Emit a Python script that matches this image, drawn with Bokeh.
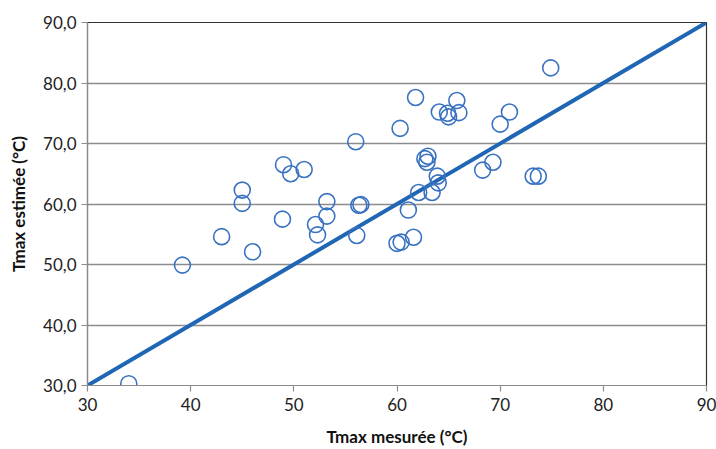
from bokeh.plotting import figure
from bokeh.models import FixedTicker, Range1d, ColumnDataSource
from bokeh.embed import file_html
from bokeh.resources import INLINE

# measured vs estimated Tmax (°C)
tmax_mesuree = [34.0, 39.2, 43.0, 45.0, 45.0, 46.0, 49.0, 48.9, 49.7, 51.0,
                52.1, 52.3, 53.2, 53.2, 56.0, 56.1, 56.3, 56.5, 60.0, 60.4,
                60.3, 61.1, 61.6, 61.8, 62.1, 62.7, 63.0, 62.9, 63.4, 64.0,
                63.9, 64.1, 64.9, 65.0, 65.8, 66.0, 68.3, 69.3, 70.0, 70.9,
                73.2, 73.7, 74.9]
tmax_estimee = [30.3, 49.9, 54.6, 62.3, 60.1, 52.1, 66.5, 57.5, 65.0, 65.7,
                56.6, 54.9, 60.4, 58.0, 70.3, 54.8, 59.8, 59.9, 53.5, 53.7,
                72.5, 59.0, 54.5, 77.6, 61.9, 67.5, 67.9, 66.9, 61.9, 63.5,
                64.6, 75.2, 75.0, 74.4, 77.1, 75.1, 65.6, 66.9, 73.2, 75.2,
                64.6, 64.6, 82.5]
ligne_x = [30, 90]
ligne_y = [30, 90]
x_ticks = [30, 40, 50, 60, 70, 80, 90]
y_ticks = [30, 40, 50, 60, 70, 80, 90]
y_tick_labels = ["30,0", "40,0", "50,0", "60,0", "70,0", "80,0", "90,0"]

FONT = "Lato"

p = figure(width=716, height=449, output_backend="svg", toolbar_location=None,
           x_range=Range1d(30, 90), y_range=Range1d(30, 90),
           min_border_left=87, min_border_right=10, min_border_top=22,
           min_border_bottom=62)

p.line(ligne_x, ligne_y, line_color="#1f66b5", line_width=4)
src = ColumnDataSource(dict(x=tmax_mesuree, y=tmax_estimee))
p.scatter("x", "y", source=src, size=16, fill_color=None,
          line_color="#3a72c2", line_width=1.6)

p.outline_line_color = "#333333"
p.outline_line_width = 1.2

p.xgrid.grid_line_color = None
p.ygrid.grid_line_color = "#8c8c8c"
p.ygrid.grid_line_width = 1.5

p.xaxis.ticker = FixedTicker(ticks=x_ticks)
p.yaxis.ticker = FixedTicker(ticks=y_ticks)
p.yaxis.major_label_overrides = {t: l for t, l in zip(y_ticks, y_tick_labels)}

for ax in (p.xaxis[0], p.yaxis[0]):
    ax.axis_line_color = "#8c8c8c"
    ax.axis_line_width = 1.2
    ax.major_tick_line_color = "#8c8c8c"
    ax.major_tick_line_width = 1.2
    ax.major_tick_out = 6
    ax.major_tick_in = 0
    ax.minor_tick_line_color = None
    ax.major_label_text_font = FONT
    ax.major_label_text_font_size = "17px"
    ax.major_label_text_color = "#222222"
    ax.axis_label_text_font = FONT
    ax.axis_label_text_font_size = "17px"
    ax.axis_label_text_font_style = "bold"
    ax.axis_label_text_color = "#111111"

p.xaxis.axis_label = "Tmax mesurée (°C)"
p.yaxis.axis_label = "Tmax estimée (°C)"
p.xaxis.major_label_standoff = 6
p.yaxis.major_label_standoff = 5
p.xaxis.axis_label_standoff = 12
p.yaxis.axis_label_standoff = 11

open("out.html", "w").write(file_html(p, INLINE))
